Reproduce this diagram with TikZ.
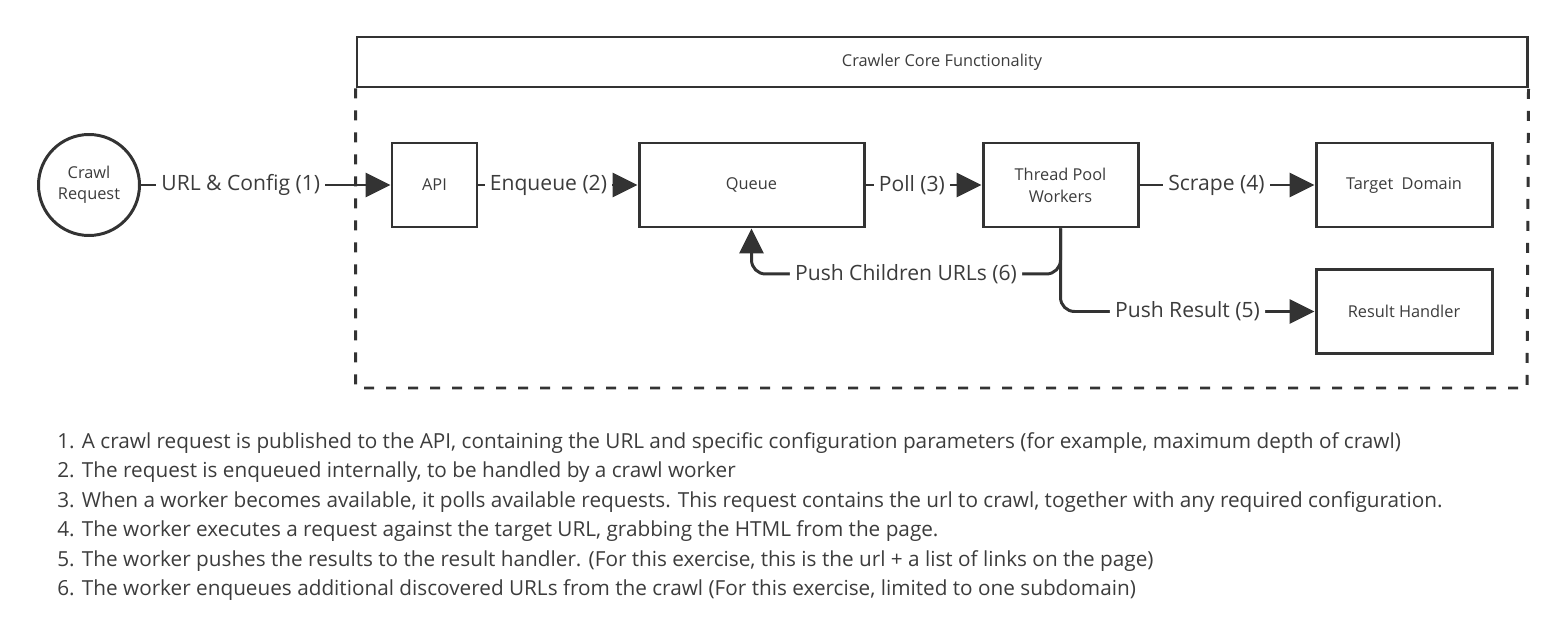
\documentclass[tikz,border=0pt]{standalone}
\usepackage{fontspec}
\setmainfont{Open Sans}
\usetikzlibrary{arrows.meta}
\definecolor{ink}{HTML}{333333}
\definecolor{txt}{HTML}{3C3C3C}

\begin{document}
\begin{tikzpicture}[
	box/.style = {draw = ink, line width = 1.7pt, minimum height = 1.68cm, inner sep = 2pt, align = center, text = txt, font = \fontsize{9.3}{12.5}\selectfont},
	flow/.style = {draw = ink, line width = 1.7pt, -{Triangle[length = 0.5cm, width = 0.48cm]}},
	tag/.style = {fill = white, text = txt, inner sep = 3pt, font = \fontsize{12}{14}\selectfont},
	note/.style = {anchor = base west, text = txt, inner sep = 0pt, font = \fontsize{11.8}{14}\selectfont}
]
	 \useasboundingbox (0, 0) rectangle (31.26, 12.78);

	 \node[draw = ink, line width = 1.7pt, circle, minimum size = 2.02cm, inner sep = 1pt, align = center, text = txt, font = \fontsize{9.3}{12}\selectfont] (request) at (1.78, 9.08) {Crawl\\Request};

	 \node[box, minimum width = 1.70cm] (api) at (8.69, 9.08) {API};
	 \node[box, minimum width = 4.50cm] (queue) at (15.03, 9.08) {Queue};
	 \node[box, minimum width = 3.10cm] (workers) at (21.21, 9.08) {Thread Pool\\Workers};
	 \node[box, minimum width = 3.52cm] (target) at (28.08, 9.08) {Target~~Domain};
	 \node[box, minimum width = 3.52cm] (results) at (28.08, 6.55) {Result Handler};

	 % frame of the crawler core
	 \node[box, minimum width = 23.40cm, minimum height = 1.00cm] (core) at (18.84, 11.54) {Crawler Core Functionality};
	 \coordinate (corner) at (30.54, 5.02);
	 \draw[ink, line width = 1.7pt, dash pattern = on 0.2cm off 0.24cm] (core.south west) |- (corner) -- (core.south east);

	 \draw[flow] (request) -- (api) node[tag, pos = 0.4] {URL \& Config (1)};
	 \draw[flow] (api) -- (queue) node[tag, pos = 0.44] {Enqueue (2)};
	 \draw[flow] (queue) -- (workers) node[tag, pos = 0.4] {Poll (3)};
	 \draw[flow] (workers) -- (target) node[tag, pos = 0.44] {Scrape (4)};

	 \draw[flow, rounded corners = 8pt] (workers.south) |- (results.west) node[tag, pos = 0.75] {Push Result (5)};
	 \draw[flow, rounded corners = 8pt] (workers.south) -- ++(0, -0.91) -| (queue.south) node[tag, pos = 0.25] {Push Children URLs (6)};

	 % numbered notes
	 \node[note] (step1) at (1.14, 3.82) {1. A crawl request is published to the API, containing the URL and specific configuration parameters (for example, maximum depth of crawl)};
	 \node[note] (step2) at (1.14, 3.23) {2. The request is enqueued internally, to be handled by a crawl worker};
	 \node[note] (step3) at (1.14, 2.64) {3. When a worker becomes available, it polls available requests. This request contains the url to crawl, together with any required configuration.};
	 \node[note] (step4) at (1.14, 2.05) {4. The worker executes a request against the target URL, grabbing the HTML from the page.};
	 \node[note] (step5) at (1.14, 1.46) {5. The worker pushes the results to the result handler. (For this exercise, this is the url + a list of links on the page)};
	 \node[note] (step6) at (1.14, 0.87) {6. The worker enqueues additional discovered URLs from the crawl (For this exercise, limited to one subdomain)};
\end{tikzpicture}
\end{document}
